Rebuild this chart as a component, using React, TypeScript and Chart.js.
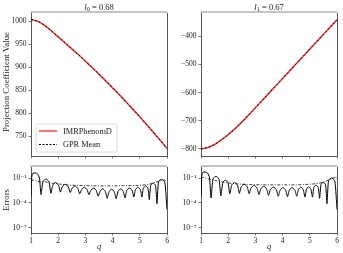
import React, { useEffect, useRef } from 'react';
import { Chart, registerables } from 'chart.js';
Chart.register(...registerables);

const W = 343;
const H = 253;
const FONT = "'Liberation Serif', 'DejaVu Serif', serif";
const TXT = '#222';
const SPINE = '#555';
const TOPSPINE = '#c4c4c4';

// ---- top panels: projection coefficient values ----
const qTop = [1, 1.25, 1.5, 1.75, 2, 2.25, 2.5, 2.75, 3, 3.25, 3.5, 3.75, 4, 4.25, 4.5, 4.75, 5, 5.25, 5.5, 5.75, 6];
const imrL0 = [1004, 1000, 991, 979, 966, 953, 940, 927, 913, 899, 885, 870, 855, 840, 824, 808, 792, 775, 758, 741, 723];
const gprL0 = [1004, 1000, 991, 979, 966, 953, 940, 927, 913, 899, 885, 870, 855, 840, 824, 808, 792, 775, 758, 741, 723];
const imrL1 = [-800, -795, -784, -768, -749, -728, -705, -680, -654, -628, -602, -576, -550, -524, -498, -472, -446, -420, -394, -368, -342];
const gprL1 = [-800, -795, -784, -768, -749, -728, -705, -680, -654, -628, -602, -576, -550, -524, -498, -472, -446, -420, -394, -368, -342];
const yTicksL0 = [750, 800, 850, 900, 950, 1000];
const yTicksL1 = [-800, -700, -600, -500, -400];
const xTicks = [1, 2, 3, 4, 5, 6];
const titleSubs = ['0', '1'];
const titleVals = ['0.68', '0.67'];

// ---- bottom panels: errors (log10 values) ----
const errQL0 = [1.0, 1.03, 1.07, 1.15, 1.24, 1.31, 1.37, 1.44, 1.55, 1.66, 1.73, 1.80, 1.905, 2.01, 2.08, 2.15, 2.26, 2.37, 2.44, 2.51, 2.615, 2.72, 2.79, 2.86, 2.96, 3.06, 3.13, 3.20, 3.30, 3.40, 3.47, 3.54, 3.635, 3.73, 3.80, 3.87, 3.965, 4.06, 4.13, 4.20, 4.295, 4.39, 4.46, 4.52, 4.62, 4.72, 4.78, 4.84, 4.93, 5.02, 5.08, 5.13, 5.215, 5.30, 5.35, 5.40, 5.49, 5.58, 5.63, 5.69, 5.80, 5.92, 6.0];
const errLogL0 = [-3.2, -0.8, -0.42, -0.38, -0.5, -1.0, -3.0, -1.42, -1.12, -1.42, -2.85, -1.85, -1.55, -1.85, -2.7, -2.05, -1.75, -2.05, -2.75, -2.25, -1.95, -2.25, -2.9, -2.4, -2.1, -2.4, -3.0, -2.5, -2.2, -2.5, -3.2, -2.6, -2.3, -2.6, -3.45, -2.65, -2.35, -2.65, -3.5, -2.6, -2.3, -2.6, -3.4, -2.5, -2.2, -2.5, -3.3, -2.4, -2.1, -2.4, -3.3, -2.25, -1.95, -2.25, -3.6, -1.9, -1.6, -1.9, -4.1, -1.45, -1.15, -1.5, -4.8];
const stdQL0 = [1.0, 1.1, 1.2, 1.35, 1.5, 1.7, 1.9, 2.1, 2.4, 2.8, 3.2, 3.6, 4.0, 4.4, 4.8, 5.1, 5.4, 5.6, 5.8, 5.9, 6.0];
const stdLogL0 = [-1.3, -1.25, -1.35, -1.45, -1.45, -1.6, -1.65, -1.75, -1.85, -1.9, -1.93, -1.95, -1.95, -1.93, -1.9, -1.85, -1.7, -1.5, -1.3, -1.25, -1.35];

const errQL1 = [1.0, 1.03, 1.07, 1.15, 1.24, 1.31, 1.37, 1.44, 1.55, 1.66, 1.73, 1.80, 1.895, 1.99, 2.06, 2.13, 2.235, 2.34, 2.41, 2.48, 2.59, 2.70, 2.77, 2.84, 2.95, 3.06, 3.13, 3.20, 3.305, 3.41, 3.48, 3.55, 3.66, 3.77, 3.84, 3.91, 4.01, 4.11, 4.18, 4.25, 4.35, 4.45, 4.52, 4.58, 4.67, 4.76, 4.82, 4.88, 4.96, 5.04, 5.10, 5.15, 5.23, 5.31, 5.36, 5.41, 5.495, 5.58, 5.63, 5.69, 5.80, 5.92, 6.0];
const errLogL1 = [-3.2, -0.7, -0.3, -0.27, -0.4, -0.9, -3.4, -1.1, -0.8, -1.1, -3.15, -1.55, -1.25, -1.55, -2.9, -1.85, -1.55, -1.85, -2.85, -2.05, -1.75, -2.05, -2.9, -2.2, -1.9, -2.2, -3.0, -2.3, -2.0, -2.3, -3.1, -2.4, -2.1, -2.4, -3.2, -2.45, -2.15, -2.45, -3.25, -2.45, -2.15, -2.45, -3.2, -2.4, -2.1, -2.4, -3.3, -2.35, -2.05, -2.35, -3.3, -2.15, -1.85, -2.15, -3.45, -1.8, -1.5, -1.8, -4.1, -1.3, -1.0, -1.35, -4.8];
const stdQL1 = [1.0, 1.1, 1.25, 1.4, 1.6, 1.8, 2.0, 2.3, 2.7, 3.2, 3.7, 4.2, 4.7, 5.0, 5.3, 5.5, 5.7, 5.85, 5.95, 6.0];
const stdLogL1 = [-1.0, -0.95, -1.1, -1.2, -1.35, -1.5, -1.6, -1.7, -1.78, -1.82, -1.83, -1.83, -1.8, -1.75, -1.65, -1.5, -1.2, -1.0, -0.95, -1.05];

const errTickExps = [-7, -4, -1];
const errMinExp = -7.64;
const errMaxExp = 0.33;

const SUP: Record<string, string> = { '-': '⁻', '0': '⁰', '1': '¹', '2': '²', '3': '³', '4': '⁴', '5': '⁵', '6': '⁶', '7': '⁷', '8': '⁸', '9': '⁹' };

const pts = (xs: number[], ys: number[]) => xs.map((x, i) => ({ x, y: ys[i] }));
const logPts = (xs: number[], ls: number[]) => xs.map((x, i) => ({ x, y: Math.pow(10, ls[i]) }));

const tickFont = { family: FONT, size: 7.5 };

function xScale(showLabels: boolean, h: number) {
  return {
    type: 'linear',
    min: 1,
    max: 6,
    afterBuildTicks: (s: any) => { s.ticks = xTicks.map((v) => ({ value: v })); },
    afterFit: (s: any) => { s.height = h; },
    ticks: { display: showLabels, color: TXT, font: tickFont, padding: 1, maxRotation: 0, autoSkip: false, callback: (v: any) => String(v) },
    grid: { drawOnChartArea: false, drawTicks: true, tickLength: 2.5, tickColor: SPINE, tickWidth: 0.8 },
    border: { display: true, color: SPINE, width: 1 },
  };
}

function yLinear(min: number, max: number, ticks: number[]) {
  return {
    type: 'linear',
    min,
    max,
    afterBuildTicks: (s: any) => { s.ticks = ticks.map((v) => ({ value: v })); },
    afterFit: (s: any) => { s.width = 31; },
    ticks: { color: TXT, font: tickFont, padding: 2, autoSkip: false, callback: (v: any) => (v < 0 ? '−' + Math.abs(v) : String(v)) },
    grid: { drawOnChartArea: false, drawTicks: true, tickLength: 2.5, tickColor: SPINE, tickWidth: 0.8 },
    border: { display: true, color: SPINE, width: 1 },
  };
}

function yLog() {
  return {
    type: 'logarithmic',
    min: Math.pow(10, errMinExp),
    max: Math.pow(10, errMaxExp),
    afterBuildTicks: (s: any) => { s.ticks = errTickExps.map((e) => ({ value: Math.pow(10, e) })); },
    afterFit: (s: any) => { s.width = 31; },
    ticks: {
      color: TXT, font: tickFont, padding: 2, autoSkip: false,
      callback: (v: any) => {
        const e = String(Math.round(Math.log10(v)));
        return '10' + e.split('').map((c) => SUP[c] || c).join('');
      },
    },
    grid: { drawOnChartArea: false, drawTicks: true, tickLength: 2.5, tickColor: SPINE, tickWidth: 0.8 },
    border: { display: true, color: SPINE, width: 1 },
  };
}

function drawTitle(ctx: CanvasRenderingContext2D, cx: number, y: number, sub: string, val: string) {
  const fs = 8.5;
  const fIt = `italic ${fs}px ${FONT}`;
  const fSub = `${fs * 0.72}px ${FONT}`;
  const fN = `${fs}px ${FONT}`;
  const rest = ' = ' + val;
  ctx.font = fIt; const wl = ctx.measureText('l').width + 0.4;
  ctx.font = fSub; const ws = ctx.measureText(sub).width;
  ctx.font = fN; const wr = ctx.measureText(rest).width;
  let x = cx - (wl + ws + wr) / 2;
  ctx.fillStyle = TXT;
  ctx.textAlign = 'left';
  ctx.textBaseline = 'alphabetic';
  ctx.font = fIt; ctx.fillText('l', x, y); x += wl;
  ctx.font = fSub; ctx.fillText(sub, x, y + 1.8); x += ws;
  ctx.font = fN; ctx.fillText(rest, x, y);
}

function drawVText(ctx: CanvasRenderingContext2D, text: string, x: number, y: number) {
  ctx.save();
  ctx.translate(x, y);
  ctx.rotate(-Math.PI / 2);
  ctx.font = `8.8px ${FONT}`;
  ctx.fillStyle = TXT;
  ctx.textAlign = 'center';
  ctx.textBaseline = 'middle';
  ctx.fillText(text, 0, 0);
  ctx.restore();
}

function decoPlugin(extra: (ctx: CanvasRenderingContext2D, a: any) => void) {
  return {
    id: 'deco',
    afterDraw(chart: any) {
      const ctx = chart.ctx as CanvasRenderingContext2D;
      const a = chart.chartArea;
      ctx.save();
      ctx.fillStyle = TOPSPINE;
      ctx.fillRect(a.left - 0.5, a.top - 2, a.right - a.left + 1, 2);
      ctx.strokeStyle = SPINE;
      ctx.lineWidth = 1;
      ctx.beginPath();
      ctx.moveTo(a.right + 0.5, a.top);
      ctx.lineTo(a.right + 0.5, a.bottom + 0.5);
      ctx.stroke();
      extra(ctx, a);
      ctx.restore();
    },
  };
}

function legend(ctx: CanvasRenderingContext2D) {
  const bx = 36, by = 124, bw = 81, bh = 28, r = 2;
  ctx.beginPath();
  ctx.moveTo(bx + r, by);
  ctx.arcTo(bx + bw, by, bx + bw, by + bh, r);
  ctx.arcTo(bx + bw, by + bh, bx, by + bh, r);
  ctx.arcTo(bx, by + bh, bx, by, r);
  ctx.arcTo(bx, by, bx + bw, by, r);
  ctx.closePath();
  ctx.fillStyle = 'rgba(255,255,255,0.85)';
  ctx.fill();
  ctx.strokeStyle = '#d0d0d0';
  ctx.lineWidth = 0.8;
  ctx.stroke();
  ctx.lineWidth = 1.6;
  ctx.strokeStyle = 'rgba(255,0,0,0.7)';
  ctx.beginPath(); ctx.moveTo(39, 131); ctx.lineTo(57, 131); ctx.stroke();
  ctx.lineWidth = 1;
  ctx.strokeStyle = '#000';
  ctx.setLineDash([2, 1.5]);
  ctx.beginPath(); ctx.moveTo(39, 144.5); ctx.lineTo(57, 144.5); ctx.stroke();
  ctx.setLineDash([]);
  ctx.fillStyle = TXT;
  ctx.font = `8.3px ${FONT}`;
  ctx.textAlign = 'left';
  ctx.textBaseline = 'middle';
  ctx.fillText('IMRPhenomD', 63, 131.5);
  ctx.fillText('GPR Mean', 63, 144.5);
}

function drawQ(ctx: CanvasRenderingContext2D, a: any) {
  ctx.font = `italic 8.5px ${FONT}`;
  ctx.fillStyle = TXT;
  ctx.textAlign = 'center';
  ctx.textBaseline = 'middle';
  ctx.fillText('q', (a.left + a.right) / 2, 247);
}

const AREA = {
  topT: 13, topB: 156, botT: 167, botB: 233,
  leftL: 31, leftR: 167, rightL: 201, rightR: 337,
};

function baseOptions(pad: any, scales: any) {
  return {
    responsive: false,
    devicePixelRatio: 1,
    animation: false,
    events: [],
    layout: { padding: pad },
    plugins: { legend: { display: false }, tooltip: { enabled: false }, title: { display: false } },
    elements: { point: { radius: 0 } },
    scales,
  };
}

function topConfig(idx: number) {
  const left = idx === 0 ? AREA.leftL : AREA.rightL;
  const right = idx === 0 ? AREA.leftR : AREA.rightR;
  const xH = 3;
  const pad = { left: left - 31, right: W - right, top: AREA.topT, bottom: H - AREA.topB - xH };
  const imr = idx === 0 ? imrL0 : imrL1;
  const gpr = idx === 0 ? gprL0 : gprL1;
  const y = idx === 0 ? yLinear(706.5, 1018, yTicksL0) : yLinear(-825, -318, yTicksL1);
  return {
    type: 'line',
    data: {
      datasets: [
        { label: 'GPR Mean', data: pts(qTop, gpr), borderColor: '#000', borderWidth: 1, borderDash: [2, 2], cubicInterpolationMode: 'monotone', pointRadius: 0 },
        { label: 'IMRPhenomD', data: pts(qTop, imr), borderColor: 'rgba(255,0,0,0.75)', borderWidth: 1.6, cubicInterpolationMode: 'monotone', pointRadius: 0 },
      ],
    },
    options: baseOptions(pad, { x: xScale(false, xH), y }),
    plugins: [decoPlugin((ctx, a) => {
      drawTitle(ctx, (a.left + a.right) / 2, 9.5, titleSubs[idx], titleVals[idx]);
      if (idx === 0) {
        drawVText(ctx, 'Projection Coefficient Value', 6.5, 82);
        legend(ctx);
      }
    })],
  };
}

function botConfig(idx: number) {
  const left = idx === 0 ? AREA.leftL : AREA.rightL;
  const right = idx === 0 ? AREA.leftR : AREA.rightR;
  const xH = 12;
  const pad = { left: left - 31, right: W - right, top: AREA.botT, bottom: H - AREA.botB - xH };
  const eq = idx === 0 ? errQL0 : errQL1;
  const el = idx === 0 ? errLogL0 : errLogL1;
  const sq = idx === 0 ? stdQL0 : stdQL1;
  const sl = idx === 0 ? stdLogL0 : stdLogL1;
  return {
    type: 'line',
    data: {
      datasets: [
        { label: 'error', data: logPts(eq, el), borderColor: '#000', borderWidth: 1, tension: 0.2, pointRadius: 0 },
        { label: 'std', data: logPts(sq, sl), borderColor: '#111', borderWidth: 0.8, borderDash: [3, 1.5, 1, 1.5], cubicInterpolationMode: 'monotone', pointRadius: 0 },
      ],
    },
    options: baseOptions(pad, { x: xScale(true, xH), y: yLog() }),
    plugins: [decoPlugin((ctx, a) => {
      drawQ(ctx, a);
      if (idx === 0) drawVText(ctx, 'Errors', 6.5, (a.top + a.bottom) / 2);
    })],
  };
}

export default function App() {
  const r0 = useRef<HTMLCanvasElement>(null);
  const r1 = useRef<HTMLCanvasElement>(null);
  const r2 = useRef<HTMLCanvasElement>(null);
  const r3 = useRef<HTMLCanvasElement>(null);
  const refs = [r0, r1, r2, r3];
  useEffect(() => {
    const cfgs = [topConfig(0), topConfig(1), botConfig(0), botConfig(1)];
    const charts = cfgs.map((c, i) => new Chart(refs[i].current as HTMLCanvasElement, c as any));
    return () => charts.forEach((c) => c.destroy());
  }, []);
  return (
    <div style={{ position: 'fixed', left: 0, top: 0, width: W, height: H, background: '#fff' }}>
      {refs.map((r, i) => (
        <canvas key={i} ref={r} width={W} height={H} style={{ position: 'absolute', left: 0, top: 0, width: W, height: H }} />
      ))}
    </div>
  );
}
